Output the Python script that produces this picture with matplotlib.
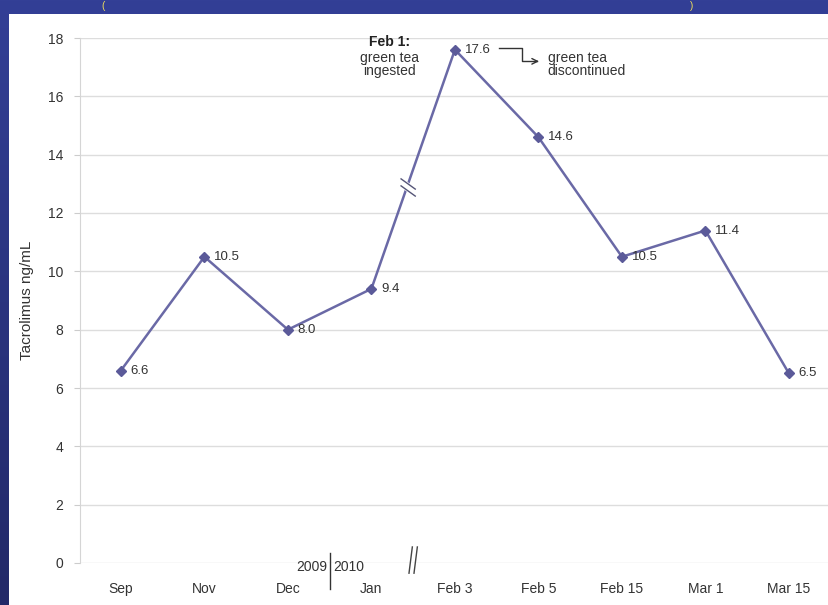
import matplotlib
matplotlib.use("Agg")
import matplotlib.pyplot as plt
import numpy as np
from matplotlib.patches import Rectangle

plt.rcParams['font.family'] = ['Liberation Sans', 'DejaVu Sans']

categories = ["Sep", "Nov", "Dec", "Jan", "Feb 3", "Feb 5", "Feb 15", "Mar 1", "Mar 15"]
values = [6.6, 10.5, 8.0, 9.4, 17.6, 14.6, 10.5, 11.4, 6.5]
value_labels = ["6.6", "10.5", "8.0", "9.4", "17.6", "14.6", "10.5", "11.4", "6.5"]
yticks = [0, 2, 4, 6, 8, 10, 12, 14, 16, 18]
ylabel = "Tacrolimus ng/mL"

W, H = 829, 605
fig = plt.figure(figsize=(W / 100, H / 100), dpi=100)

# blue gradient background
bg = fig.add_axes([0, 0, 1, 1], zorder=-10)
grad = np.linspace(0, 1, 256).reshape(-1, 1)
top = np.array([0x33, 0x3f, 0x96]) / 255
bot = np.array([0x22, 0x29, 0x68]) / 255
img = top[None, None, :] * (1 - grad[:, :, None]) + bot[None, None, :] * grad[:, :, None]
bg.imshow(img, aspect='auto', extent=[0, 1, 0, 1])
bg.set_xlim(0, 1); bg.set_ylim(0, 1)
bg.axis('off')

# white panel
fig.patches.append(Rectangle((9 / W, 0), 1 - 9 / W, (H - 14) / H, transform=fig.transFigure,
                             facecolor='white', edgecolor='none', zorder=-5))

# yellow title remnants
fig.text(103 / W, 1 - 6 / H, "(", color='#f2e15a', fontsize=7, ha='center', va='center')
fig.text(692 / W, 1 - 6 / H, ")", color='#f2e15a', fontsize=7, ha='center', va='center')

left, right = 80 / W, 829 / W
bottom, topf = (H - 563) / H, (H - 38) / H
ax = fig.add_axes([left, bottom, right - left, topf - bottom])
ax.set_facecolor('none')

x = np.arange(len(categories))
line_color = '#6a69a6'
ax.plot(x, values, color=line_color, lw=1.8, marker='D', markersize=5.5,
        markerfacecolor='#5b5a99', markeredgecolor='#5b5a99', zorder=3)

for xi, v, lab in zip(x, values, value_labels):
    ax.annotate(lab, (xi, v), xytext=(7, 0), textcoords='offset points',
                ha='left', va='center', fontsize=9.5, color='#333333', zorder=4)

ax.set_xlim(-0.49, 8.48)
ax.set_ylim(0, 18)
ax.set_yticks(yticks)
ax.set_xticks(x)
ax.set_xticklabels(categories)
ax.tick_params(axis='x', length=0, pad=14, labelsize=10, labelcolor='#333333')
ax.tick_params(axis='y', length=4, color='#cccccc', pad=8, labelsize=10, labelcolor='#333333')
ax.grid(axis='y', color='#dddddd', lw=1)
ax.set_axisbelow(True)
for s in ['top', 'right', 'bottom']:
    ax.spines[s].set_visible(False)
ax.spines['left'].set_color('#d5d5d5')
ax.set_ylabel(ylabel, fontsize=11, color='#333333', labelpad=10)

# break mark on the line between Jan and Feb 3
bx, by = 3.44, 13.0
dx = 0.085
ax.plot([bx - dx, bx + dx], [by + 0.05, by - 0.3], color='white', lw=6, zorder=3.5, solid_capstyle='butt')
for off in (0.12, -0.12):
    ax.plot([bx - dx, bx + dx], [by + off + 0.05, by + off - 0.3], color='#555577', lw=1.0, zorder=3.6)

# axis break "//" near the x-axis
for ox in (-0.03, 0.03):
    ax.plot([3.50 + ox - 0.02, 3.50 + ox + 0.02], [-0.35, 0.55], color='#444444', lw=1.0,
            clip_on=False, zorder=5)

# 2009 | 2010 divider
ax.plot([2.5, 2.5], [0.35, -0.9], color='#333333', lw=1.0, clip_on=False)
ax.text(2.47, -0.15, "2009", ha='right', va='center', fontsize=10, color='#333333')
ax.text(2.54, -0.15, "2010", ha='left', va='center', fontsize=10, color='#333333')

# annotations near the peak
ax.text(3.22, 17.85, "Feb 1:", ha='center', va='center', fontsize=10, fontweight='bold', color='#222222')
ax.text(3.22, 17.1, "green tea\ningested", ha='center', va='center', fontsize=10, color='#333333',
        linespacing=0.95)
ax.plot([4.53, 4.80, 4.80, 4.98], [17.65, 17.65, 17.2, 17.2], color='#333333', lw=1.0)
ax.annotate("", xy=(5.04, 17.2), xytext=(4.93, 17.2),
            arrowprops=dict(arrowstyle='->', color='#333333', lw=1.0))
ax.text(5.11, 17.1, "green tea\ndiscontinued", ha='left', va='center', fontsize=10, color='#333333',
        linespacing=0.95)

fig.savefig("out.png", dpi=100)
